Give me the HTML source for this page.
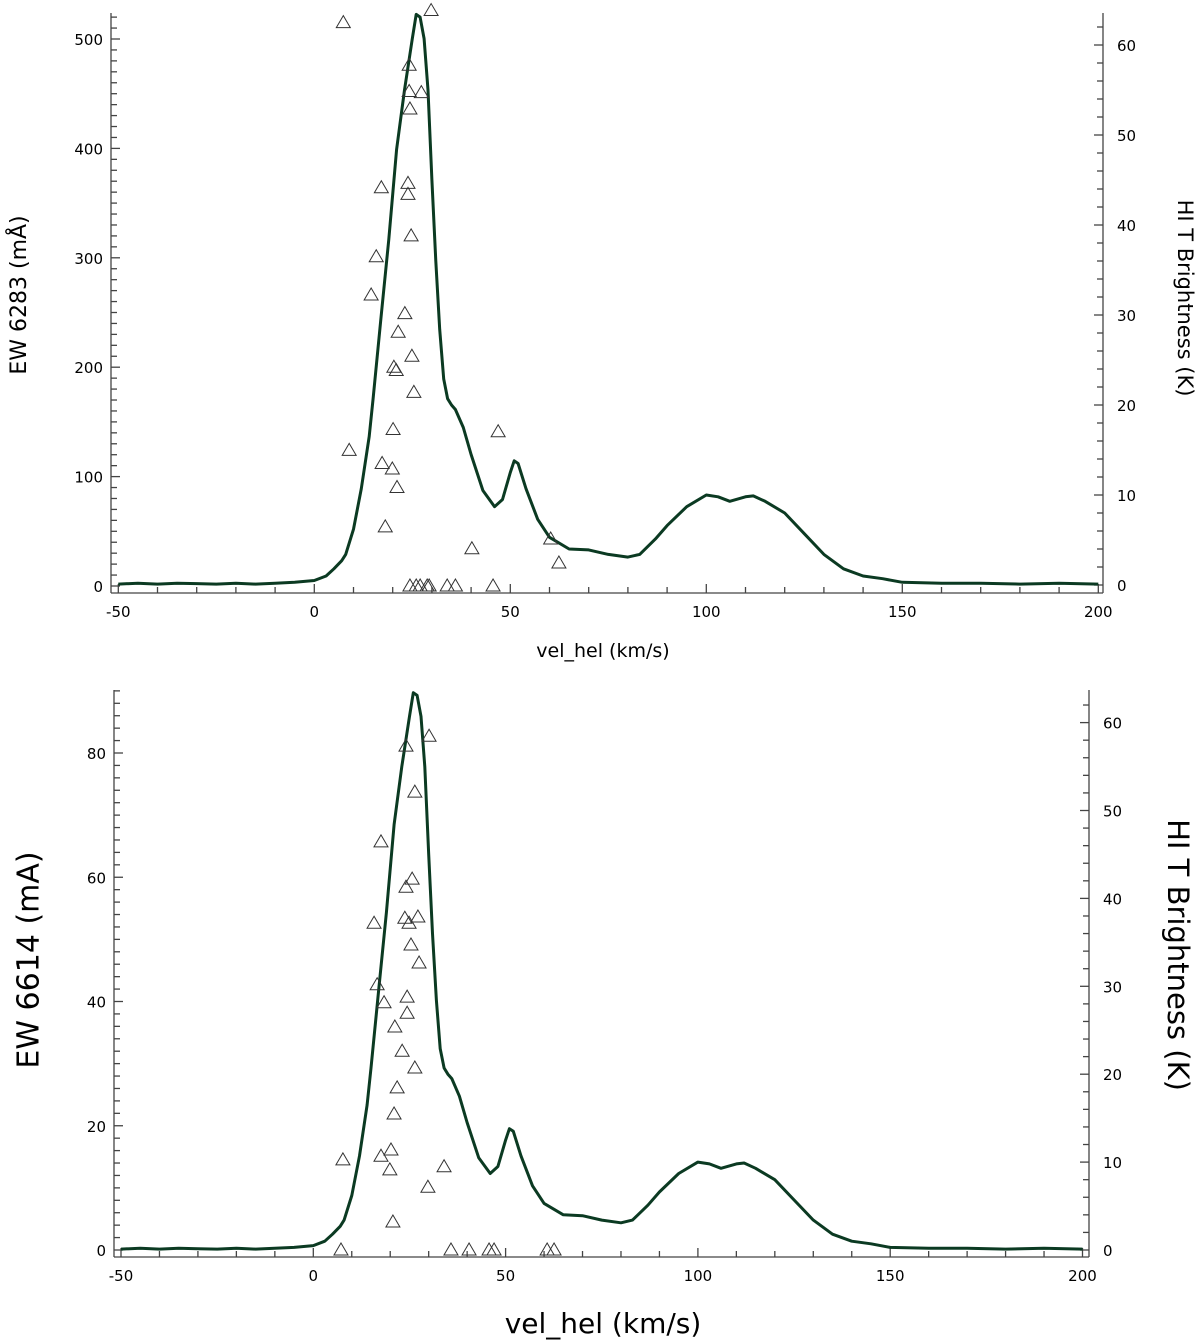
<!DOCTYPE html>
<html><head><meta charset="utf-8"><style>
html,body{margin:0;padding:0;background:#fff;}
svg{display:block;font-family:"DejaVu Sans","Liberation Sans",sans-serif;}
</style></head><body>
<svg id="chart" width="1200" height="1341" viewBox="0 0 1200 1341" xmlns="http://www.w3.org/2000/svg"></svg>
<script>
// HI brightness profile (K) vs velocity (km/s)
const hiVel = [-50,-45,-40,-35,-30,-25,-20,-15,-10,-5,0,3,5,7,8,10,12,14,15,17,19,21,23,25,26,27,28,29,30,31,32,33,34,35,36,38,40,43,46,48,50,51,52,54,57,60,65,70,75,80,83,87,90,95,100,103,106,110,112,115,120,125,130,135,140,145,150,160,170,180,190,200];
const hiK = [0.1,0.2,0.1,0.2,0.15,0.1,0.2,0.1,0.2,0.3,0.5,1.0,1.8,2.7,3.4,6.2,10.7,16.5,20.7,29.6,38.4,48.4,55,60.7,63.4,63.1,60.7,55,45,36,28.4,22.9,20.7,20.0,19.5,17.5,14.5,10.5,8.7,9.5,12.5,13.8,13.5,10.7,7.3,5.3,4.0,3.9,3.4,3.1,3.4,5.1,6.6,8.7,10.0,9.8,9.3,9.8,9.9,9.3,8.0,5.7,3.4,1.8,1.0,0.7,0.3,0.2,0.2,0.1,0.2,0.1];
// EW 6283 (mÅ) measurements
const ew1Vel = [7.4,29.8,8.9,17.1,15.8,14.5,24.2,24.2,27.3,24.4,23.9,23.9,24.7,23.1,21.4,20.3,20.9,24.9,25.4,20.1,17.3,19.9,21.1,18.1,46.9,40.2,60.3,62.4,24.4,26,27,28.8,29.3,33.9,36,45.6];
const ew1Val = [515,526,124,364,301,266,476,452,451,436,368,358,320,249,232,200,197,210,177,143,112,107,90,54,141,34,43,21,0,0,0,0,0,0,0,0];
// EW 6614 (mA) measurements
const ew2Vel = [30.1,24.1,26.4,17.6,25.7,24.1,23.8,27.2,15.8,24.9,25.4,27.5,16.6,18.4,24.4,24.4,21.2,23.1,26.4,21.8,21.0,20.2,17.6,19.9,20.7,34.0,29.8,7.7,7.2,35.8,40.5,45.7,47.0,60.8,62.6];
const ew2Val = [82.7,81.1,73.7,65.7,59.7,58.4,53.4,53.6,52.6,52.6,49.1,46.2,42.7,39.8,40.7,38.1,35.9,32.0,29.3,26.1,21.9,16.1,15.1,12.9,4.5,13.4,10.1,14.5,0,0,0,0,0,0,0];
const xTicks = [-50,0,50,100,150,200];
const y1Ticks = [0,100,200,300,400,500];
const y2Ticks = [0,20,40,60,80];
const kTicks = [0,10,20,30,40,50,60];

const NS="http://www.w3.org/2000/svg";
const svg=document.getElementById('chart');
function mk(tag,attrs,parent){const e=document.createElementNS(NS,tag);for(const k in attrs)e.setAttribute(k,attrs[k]);(parent||svg).appendChild(e);return e;}

const panels=[
 {name:'top',ax0:111,ax1:1103,axY:593,top:13,x0:314.3,xs:3.92,y0:586,ys:1.094,k0:585,ks:9.0,
  yTicks:y1Ticks,yMinor:10,yMax:525,vel:ew1Vel,val:ew1Val,fs:15,
  ylab:'EW 6283 (mÅ)',ylabX:20,ylabY:295,ylabFs:22,rlabX:1184,rlabY:298,rlabFs:21,xlab:'vel_hel (km/s)',xlabY:657,xlabFs:19},
 {name:'bottom',ax0:114,ax1:1089,axY:1257,top:690,x0:313.3,xs:3.846,y0:1250,ys:6.2125,k0:1250,ks:8.79,
  yTicks:y2Ticks,yMinor:2,yMax:90,vel:ew2Vel,val:ew2Val,fs:15,
  ylab:'EW 6614 (mA)',ylabX:30,ylabY:960,ylabFs:30,rlabX:1176,rlabY:955,rlabFs:29,xlab:'vel_hel (km/s)',xlabY:1333,xlabFs:28}
];

panels.forEach(p=>{
  const g=mk('g',{});
  
  
  const X=v=>p.x0+v*p.xs, Y=v=>p.y0-v*p.ys, K=v=>p.k0-v*p.ks;
  const ax=mk('g',{stroke:'#444','stroke-width':1.3},g);
  
  
  mk('line',{x1:p.ax0,y1:p.axY,x2:p.ax1,y2:p.axY},ax);
  mk('line',{x1:p.ax0,y1:p.top,x2:p.ax0,y2:p.axY},ax);
  mk('line',{x1:p.ax1,y1:p.top,x2:p.ax1,y2:p.axY},ax);
  for(let v=-50;v<=200;v+=10){const maj=v%50===0;mk('line',{x1:X(v),x2:X(v),y1:p.axY,y2:p.axY-(maj?9:6)},ax);}
  for(let v=0;v<=p.yMax;v+=p.yMinor){const maj=p.yTicks.includes(v);mk('line',{x1:p.ax0,x2:p.ax0+(maj?9:6),y1:Y(v),y2:Y(v)},ax);}
  for(let v=0;v<=64;v+=2){if(K(v)<p.top)break;const maj=v%10===0;mk('line',{x1:p.ax1,x2:p.ax1-(maj?9:6),y1:K(v),y2:K(v)},ax);}
  xTicks.forEach(v=>{const t=mk('text',{x:X(v),y:p.axY+24,'text-anchor':'middle','font-size':p.fs,fill:'#000'},g);t.textContent=v;
    });
  p.yTicks.forEach(v=>{const t=mk('text',{x:p.ax0-8,y:Y(v)+6,'text-anchor':'end','font-size':p.fs,fill:'#000'},g);t.textContent=v;
    });
  kTicks.forEach(v=>{const t=mk('text',{x:p.ax1+14,y:K(v)+6,'text-anchor':'start','font-size':p.fs,fill:'#000'},g);t.textContent=v;
    });
  let d='';hiVel.forEach((v,i)=>{d+=(i?'L':'M')+X(v).toFixed(1)+','+K(hiK[i]).toFixed(1);});
  const c=mk('path',{d:d,fill:'none',stroke:'#0b3a22','stroke-width':3,'stroke-linejoin':'round'},g);
  
  
  p.vel.forEach((v,i)=>{const cx=X(v),cy=Y(p.val[i]);
    const t=mk('polygon',{points:`${cx-7},${cy+5} ${cx+7},${cy+5} ${cx},${cy-7}`,fill:'none',stroke:'#333','stroke-width':1},g);
    
    });
  const yl=mk('text',{x:p.ylabX,y:p.ylabY,'text-anchor':'middle','font-size':p.ylabFs,transform:`rotate(-90 ${p.ylabX} ${p.ylabY})`,fill:'#000','dominant-baseline':'middle'},g);
  yl.textContent=p.ylab;
  const rl=mk('text',{x:p.rlabX,y:p.rlabY,'text-anchor':'middle','font-size':p.rlabFs,transform:`rotate(90 ${p.rlabX} ${p.rlabY})`,fill:'#000','dominant-baseline':'middle'},g);
  rl.textContent='HI T Brightness (K)';
  const xl=mk('text',{x:603,y:p.xlabY,'text-anchor':'middle','font-size':p.xlabFs,fill:'#000'},g);
  xl.textContent=p.xlab;
});
</script>
</body></html>
